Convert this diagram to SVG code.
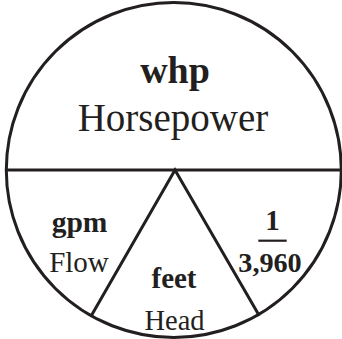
<svg xmlns="http://www.w3.org/2000/svg" width="342" height="339" viewBox="0 0 342 339">
<style>
.ln{fill:none;stroke:#231f20;stroke-width:3}
text{font-family:"Liberation Serif","Times New Roman",serif;fill:#231f20;text-anchor:middle}
.b{font-weight:bold}
</style>
<rect width="342" height="339" fill="#fff"/>
<g id="connectors">
<circle class="ln" cx="173.8" cy="170" r="167.5"/>
<line class="ln" x1="6.3" y1="170" x2="341.3" y2="170"/>
<polyline class="ln" points="91.7,315 175,170 259.3,315.7"/>
<line x1="258.3" y1="240.7" x2="286.7" y2="240.7" stroke="#231f20" stroke-width="2.2"/>
</g>
<g id="horsepower">
<text class="b" x="175" y="83.3" font-size="38">whp</text>
<text x="173" y="131" font-size="39">Horsepower</text>
</g>
<g id="flow">
<text class="b" x="79.5" y="232" font-size="29.5">gpm</text>
<text x="79" y="271.7" font-size="29">Flow</text>
</g>
<g id="head">
<text class="b" x="174" y="288.3" font-size="29">feet</text>
<text x="174.5" y="330" font-size="28.5">Head</text>
</g>
<g id="constant">
<text class="b" x="272.5" y="230" font-size="29">1</text>
<text class="b" x="270" y="271.7" font-size="28.2">3,960</text>
</g>
</svg>
